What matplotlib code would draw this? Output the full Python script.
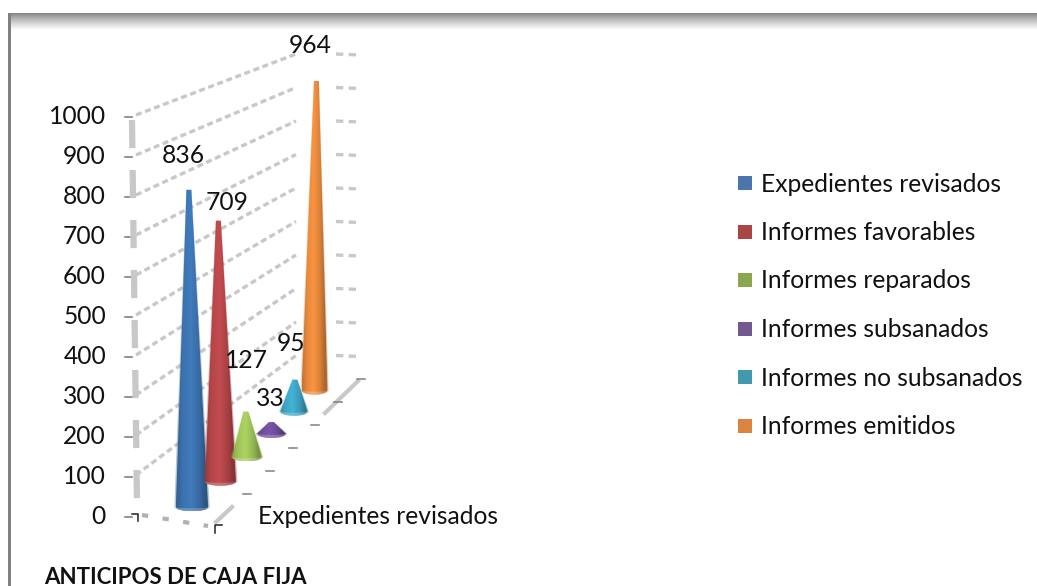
import matplotlib
matplotlib.use('Agg')
import numpy as np
import matplotlib.pyplot as plt
from matplotlib.colors import to_rgb
from matplotlib.patches import Polygon, Rectangle

series = ['Expedientes revisados', 'Informes favorables', 'Informes reparados',
          'Informes subsanados', 'Informes no subsanados', 'Informes emitidos']
values = [836, 709, 127, 33, 95, 964]
category = 'Expedientes revisados'
chart_title = 'ANTICIPOS DE CAJA FIJA'
axis_ticks = [0, 100, 200, 300, 400, 500, 600, 700, 800, 900, 1000]

cone_colors = ['#3d74b2', '#b8474a', '#a2c85c', '#7350a0', '#3fa9c9', '#ec8c3e']
legend_colors = ['#4a76ab', '#ab4644', '#8ba64f', '#71588f', '#4198af', '#db843d']
label_offsets = [(-6, -35), (9, -19), (1, -52), (-1, -25), (-4, -37), (-6, -36)]

FONT = 'Lato'
TEXT_SIZE = 17.7

# wall corners of the 3d box in pixels
LEFT_FRONT = (132, 517, 0.40)
LEFT_BACK = (300, 388, 0.335)


def wall(depth, v):
  x = LEFT_FRONT[0] + (LEFT_BACK[0] - LEFT_FRONT[0]) * depth
  y0 = LEFT_FRONT[1] + (LEFT_BACK[1] - LEFT_FRONT[1]) * depth
  k = LEFT_FRONT[2] + (LEFT_BACK[2] - LEFT_FRONT[2]) * depth
  return x, y0 - k * v


def base_of(depth):
  return 177 + 183 * depth - 36 * depth ** 2, 520 - 160 * depth + 20 * depth ** 2


def scale_of(depth):
  return 0.385 - 0.07 * depth


def cone(ax, depth, value, color):
  bx, by = base_of(depth)
  top = by - value * scale_of(depth)
  tx = bx + (depth - 0.6) * 6
  hw = 17 - 4 * depth
  eh = 4.5
  rgb = np.array(to_rgb(color))

  t = np.linspace(-1, 1, 64)
  f = np.interp(t, [-1, -0.6, -0.1, 0.45, 0.8, 1], [0.82, 0.98, 1.06, 0.9, 0.72, 0.78])
  img = np.clip(rgb[None, None, :] * f[None, :, None], 0, 1)
  arc = np.linspace(np.pi, 2 * np.pi, 30)
  tip_w = min(2.5, hw)
  for grow, alpha in [(1.06, 0.35), (0.97, 1.0)]:
    w = hw * grow
    verts = [(tx - tip_w * grow, top)]
    verts += [(bx + w * np.cos(a), by - eh * np.sin(a)) for a in arc]
    verts += [(tx + tip_w * grow, top)]
    poly = Polygon(verts, closed=True, fc='none', ec='none')
    ax.add_patch(poly)
    im = ax.imshow(img, extent=(bx - w, bx + w, by + eh, top), aspect='auto',
                   interpolation='bilinear', alpha=alpha, zorder=3 + depth)
    im.set_clip_path(poly)
  # lighter rim at the foot of the cone
  rim = Polygon([(bx + hw * np.cos(a), by - eh * np.sin(a)) for a in arc] +
                [(bx + hw * np.cos(a), by - (eh - 3) * np.sin(a)) for a in arc[::-1]],
                closed=True, fc='white', ec='none', alpha=0.22, zorder=3.5 + depth)
  ax.add_patch(rim)
  return tx, top


fig = plt.figure(figsize=(10.37, 5.86), dpi=100)
ax = fig.add_axes([0, 0, 1, 1])

# frame with the soft shadow on top
shade = np.linspace(0, 1, 64)[:, None] ** 0.8
shade = 0.5 + 0.5 * shade
ax.imshow(np.dstack([shade, shade, shade]), extent=(8, 1037, 30, 13), aspect='auto',
          interpolation='bilinear', zorder=1)
ax.add_patch(Rectangle((8, 13), 2.5, 573, fc='#808080', ec='none', zorder=2))

grid = '#c8c8c8'
for v in axis_ticks:
  x0, y0 = wall(0, v)
  x1, y1 = wall(1, v)
  if v > 0:
    ax.plot([x0 + 4, x1 - 4], [y0 - 2, y1 + 1], color=grid, lw=2.4, ls=(0, (1.8, 1.1)), zorder=2)
    ax.plot([336, 360], [y1 + 1, y1 + 2], color=grid, lw=2.4, ls=(0, (2.2, 1.6)), zorder=2)
  ax.plot([x0 - 7, x0], [y0, y0], color='#808080', lw=1.2, zorder=2)
  ax.text(106, y0, str(v), ha='right', va='center', fontsize=TEXT_SIZE, family=FONT,
          color='#111111')

# left wall edge, floor edges
ax.plot([132, 137], [120, 505], color=grid, lw=4.5, ls=(0, (4.5, 3.5)), zorder=2)
ax.plot([142, 208], [515, 526], color='#b0b0b0', lw=3, ls=(0, (1.5, 3.5)), zorder=2)
ax.plot([216, 232], [522, 507], color=grid, lw=3, zorder=2)
ax.plot([325, 358], [413, 381], color=grid, lw=3, zorder=2)
ax.plot([138, 138, 132], [521, 514, 514], color='#222222', lw=1.1, zorder=2)
ax.plot([215, 215, 222], [533, 525, 525], color='#222222', lw=1.1, zorder=2)

# depth ticks on the floor edge, one for each series
for i in range(len(series)):
  d = (i + 1) / len(series)
  tx = 224 + 137 * d
  ty = 517 - 138 * d
  ax.plot([tx - 4, tx + 4], [ty, ty], color='#808080', lw=1.1, zorder=2)

for i, (v, c, off) in enumerate(zip(values, cone_colors, label_offsets)):
  d = (i + 0.5) / len(series)
  tx, top = cone(ax, d, v, c)
  ax.text(tx + off[0], top + off[1] + 1, str(v), ha='center', va='center', fontsize=TEXT_SIZE,
          family=FONT, color='#111111', zorder=10)

ax.text(258, 516, category, ha='left', va='center', fontsize=TEXT_SIZE, family=FONT, color='#111111')
ax.text(44, 577, chart_title, ha='left', va='center', fontsize=16, family=FONT,
        fontweight='bold', color='#111111')

# legend drawn by hand to hold the row spacing
for i, (name, c) in enumerate(zip(series, legend_colors)):
  y = 183 + 48.5 * i
  ax.add_patch(Rectangle((738, y - 7), 14, 14, fc=c, ec='none'))
  ax.text(761, y + 1, name, ha='left', va='center', fontsize=TEXT_SIZE, family=FONT, color='#111111')

ax.set_xlim(0, 1037)
ax.set_ylim(586, 0)
ax.axis('off')
plt.savefig('out.png', dpi=100)
plt.close()
